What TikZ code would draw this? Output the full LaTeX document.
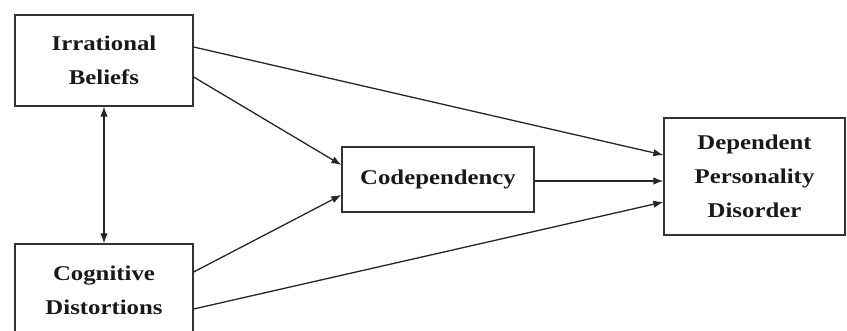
\documentclass[tikz,border=0pt]{standalone}
\usepackage{fontspec}
\newfontfamily\boxfont{Liberation Serif}[FakeStretch=1.18]
\usetikzlibrary{arrows.meta,calc}
\begin{document}
\begin{tikzpicture}[x=1pt,y=-1pt,
  box/.style={draw=black!80,line width=1.3pt,fill=none,inner sep=0pt,align=center,
    font=\boxfont\bfseries\fontsize{21}{34}\selectfont,text=black!90},
  conn/.style={draw=black!85,line width=1.3pt,-{Latex[length=10pt,width=7.5pt]}},
  biconn/.style={draw=black!85,line width=1.3pt,{Latex[length=10pt,width=7.5pt]}-{Latex[length=10pt,width=7.5pt]}}]
\useasboundingbox (0,0) rectangle (847,331);
\clip (0,0) rectangle (847,331);
\node[box,minimum width=178pt,minimum height=91pt] (ib) at (104,60.5) {Irrational\\Beliefs};
\node[box,minimum width=178pt,minimum height=92pt] (cd) at (104,290) {Cognitive\\Distortions};
\node[box,minimum width=192pt,minimum height=65pt] (cod) at (438,179.5) {Codependency};
\node[box,minimum width=181pt,minimum height=117pt] (dpd) at (754.5,176.5) {Dependent\\Personality\\Disorder};
\draw[conn] ($(ib.east)+(0,-13.5)$) -- ($(dpd.west)+(0,-21.5)$);
\draw[conn] ($(ib.east)+(0,16.5)$) -- ($(cod.west)+(0,-14.5)$);
\draw[conn] ($(cd.east)+(0,-18)$) -- ($(cod.west)+(0,15.5)$);
\draw[conn] ($(cd.east)+(0,19)$) -- ($(dpd.west)+(0,25.5)$);
\draw[conn] ($(cod.east)+(0,1.5)$) -- ($(dpd.west)+(0,4.5)$);
\draw[biconn] (ib.south) -- (cd.north);
\end{tikzpicture}
\end{document}
